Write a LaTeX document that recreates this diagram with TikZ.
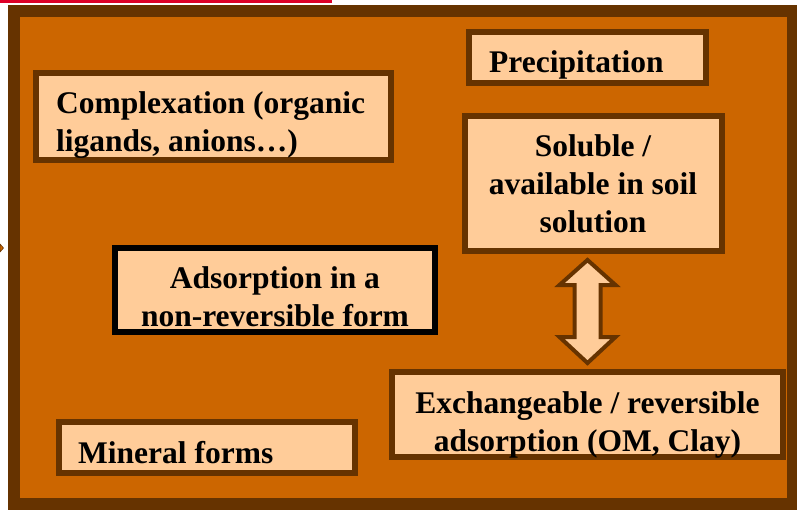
\documentclass[tikz,border=0pt]{standalone}
\usepackage{fontspec}
\setmainfont{Liberation Serif}
\usetikzlibrary{calc}
\definecolor{framebrown}{HTML}{663300}
\definecolor{frameorange}{HTML}{CC6600}
\definecolor{boxfill}{HTML}{FFCC99}
\definecolor{topred}{RGB}{222,0,40}
\tikzset{
  stagebox/.style={rectangle, draw=framebrown, fill=boxfill, line width=6pt, inner sep=0pt},
  blackbox/.style={stagebox, draw=black},
  txt/.style={inner sep=0pt, font=\fontsize{31.5}{38}\selectfont\bfseries},
}
\begin{document}
\begin{tikzpicture}[x=1pt,y=-1pt]
\useasboundingbox (0,0) rectangle (797,511);
% red bar at top (edge of a box outside the picture)
\fill[topred] (0,0) rectangle (332,3.5);
% small arrow tip at the left edge
\filldraw[fill=frameorange, draw=framebrown, line width=0.6pt] (0,244) -- (3.5,248) -- (0,252) -- cycle;
% big frame
\filldraw[fill=frameorange, draw=framebrown, line width=12pt] (13.5,11) rectangle (792.5,504);

% boxes
\node[stagebox, minimum width=237pt, minimum height=51pt] (prec) at (587.5,57.5) {};
\node[stagebox, minimum width=257pt, minimum height=135pt] (sol) at (593.5,183.5) {};
\node[stagebox, minimum width=355pt, minimum height=87pt] (comp) at (213.5,116.5) {};
\node[blackbox, minimum width=320pt, minimum height=84pt] (ads) at (275,290) {};
\node[stagebox, minimum width=391pt, minimum height=85pt] (exch) at (587.5,414.5) {};
\node[stagebox, minimum width=296pt, minimum height=51pt] (mine) at (207,447.5) {};

% texts (struts: height 26.6pt, depth 11.4pt)
\node[txt, anchor=north west] (precT) at (489,{72-26.6}) {\strut Precipitation};
\node[txt, anchor=north west, align=left] (compT) at (56,{113-26.6}) {\strut Complexation (organic\\\strut ligands, anions…)};
\node[txt, anchor=north, align=center] (solT) at (593,{156-26.6}) {\strut Soluble /\\\strut available in soil\\\strut solution};
\node[txt, anchor=north, align=center] (adsT) at (275,{288-26.6}) {\strut Adsorption in a\\\strut non-reversible form};
\node[txt, anchor=north, align=center] (exchT) at (587.5,{413-26.6}) {\strut Exchangeable / reversible\\\strut adsorption (OM, Clay)};
\node[txt, anchor=north west] (mineT) at (78,{463-26.6}) {\strut Mineral forms};

% double block arrow between soluble and exchangeable
\coordinate (A) at ($(exch.north |- sol.south)+(0,6)$);
\coordinate (B) at ($(exch.north)+(0,-6)$);
\filldraw[fill=boxfill, draw=framebrown, line width=4pt, line join=miter]
  (A) -- ($(A)+(28,25)$) -- ($(A)+(13,25)$) -- ($(B)+(13,-26)$) -- ($(B)+(28,-26)$)
  -- (B) -- ($(B)+(-28,-26)$) -- ($(B)+(-13,-26)$) -- ($(A)+(-13,25)$) -- ($(A)+(-28,25)$) -- cycle;
\end{tikzpicture}
\end{document}
